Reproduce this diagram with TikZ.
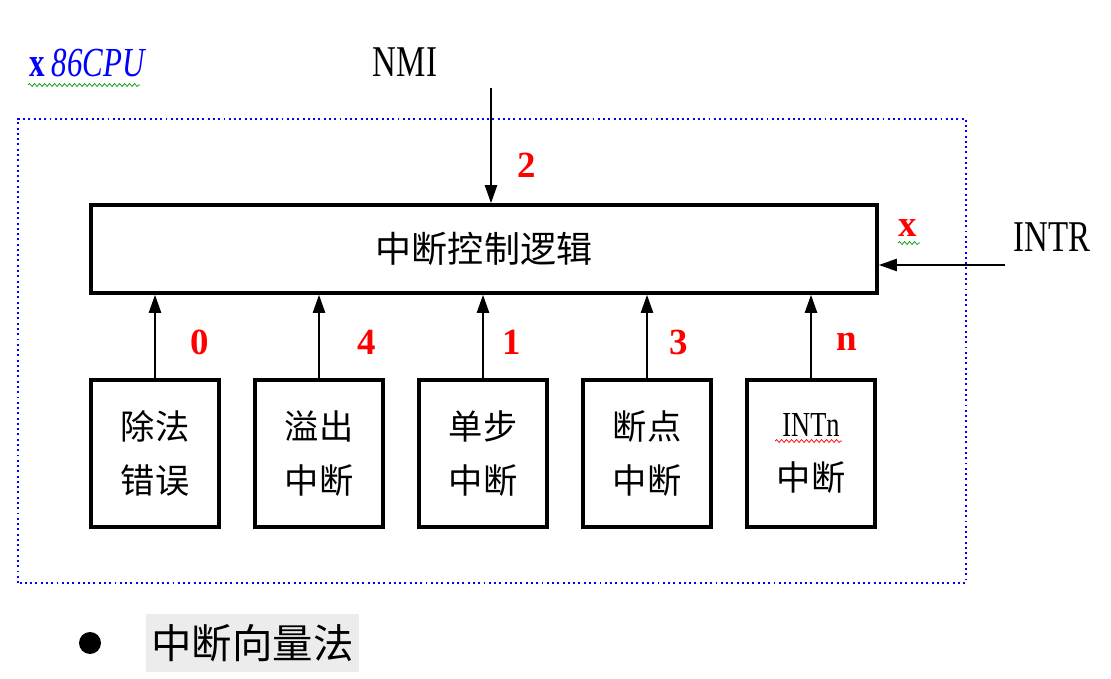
\documentclass[tikz,border=0pt]{standalone}
\usepackage{fontspec}
\setmainfont{Liberation Serif}
\newfontfamily\cjk{Noto Sans CJK SC}
\newfontfamily\lat[FakeStretch=0.75]{Liberation Serif}
\usetikzlibrary{arrows.meta,decorations.pathmorphing}

\tikzset{
  srcbox/.style={draw,line width=2.6pt,minimum width=2.56cm,minimum height=2.94cm,
    inner sep=0pt,align=center,font=\cjk\fontsize{19.5}{31}\selectfont},
  num/.style={text=red,font=\bfseries\fontsize{21}{21}\selectfont},
  sig/.style={-{Triangle[length=0.36cm,width=0.24cm]},line width=1.3pt},
  wavy/.style={line width=0.4pt,decorate,decoration={snake,amplitude=0.03cm,segment length=0.1cm}}
}

\begin{document}
\begin{tikzpicture}
			\useasboundingbox (0,0) rectangle (22.22,13.56);
			\draw[blue,line width=1.1pt,dash pattern=on 1.1pt off 1.9pt] (0.36,1.90) rectangle (19.32,11.18);

			\node[text=blue,font=\lat\fontsize{23.5}{24}\selectfont] (cpu) at (1.76,12.30) {\textbf{x}\,\textit{86CPU}};
			\draw[wavy,green!60!black] (0.56,11.86) -- (2.80,11.86);

			% control logic
			\node[draw,line width=2pt,minimum width=15.72cm,minimum height=1.76cm,
				font=\cjk\fontsize{20.5}{21}\selectfont] (ctrl) at (9.68,8.58) {中断控制逻辑};

			% external lines
			\node[font=\lat\fontsize{25}{26}\selectfont] (nmi) at (8.10,12.32) {NMI};
			\coordinate (nmiin) at (9.82,11.80);
			\draw[sig] (nmiin) -- (nmiin |- ctrl.north);
			\node[font=\lat\fontsize{25}{26}\selectfont] (intr) at (21.04,8.82) {INTR};
			\coordinate (intrin) at (20.10,8.26);
			\draw[sig] (intrin) -- (intrin -| ctrl.east);

			% internal sources
			\foreach \x/\n/\t in {3.10/div/{除法\\错误}, 6.38/ovf/{溢出\\中断}, 9.66/step1/{单步\\中断},
				12.94/brk/{断点\\中断}, 16.22/intn/{{\lat\fontsize{20}{20}\selectfont INTn}\\中断}}
			{
				\node[srcbox] (\n) at (\x,4.49) {\t};
				\draw[sig] (\n.north) -- (\n.north |- ctrl.south);
			}
			\draw[wavy,red] (15.50,4.74) -- (16.84,4.74);

			\node[num] (t2) at (10.54,10.26) {2};
			\node[num] (tx) at (18.16,9.00) {x};
			\draw[wavy,green!60!black] (17.96,8.70) -- (18.40,8.70);
			\node[num] (t0) at (4.00,6.72) {0};
			\node[num] (t4) at (7.34,6.72) {4};
			\node[num] (t1) at (10.24,6.72) {1};
			\node[num] (t3) at (13.58,6.72) {3};
			\node[num] (tn) at (16.94,6.72) {n};

			\node[circle,fill,inner sep=0pt,minimum size=0.44cm] (dot) at (1.80,0.70) {};
			\node[fill=gray!15,minimum width=4.18cm,minimum height=1.16cm,
				font=\cjk\fontsize{23}{23}\selectfont] (vec) at (5.05,0.70) {中断向量法};
		\end{tikzpicture}
\end{document}
